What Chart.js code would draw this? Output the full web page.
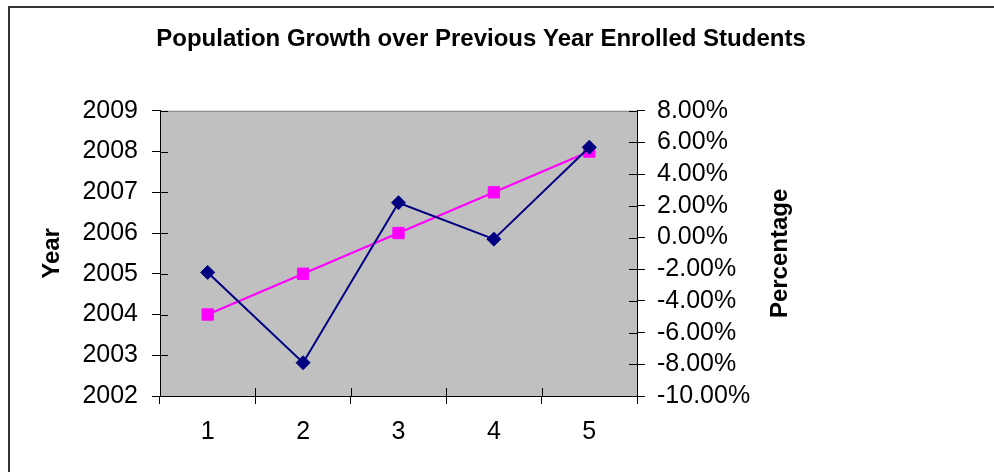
<!DOCTYPE html>
<html>
<head>
<meta charset="utf-8">
<script src="https://cdn.jsdelivr.net/npm/chart.js@4.4.0/dist/chart.umd.min.js"></script>
<style>
    html, body { margin: 0; padding: 0; background: #fff; overflow: hidden; }
    #wrap { position: relative; width: 994px; height: 472px; }
    #frame {
        position: absolute; left: 8px; top: 6px; width: 1000px; height: 500px;
        border: 2px solid #333; pointer-events: none;
    }
    canvas { position: absolute; left: 0; top: 0; }
</style>
</head>
<body>
<div id="wrap">
    <div id="frame"></div>
    <canvas id="chart" width="994" height="472"></canvas>
</div>
<script>
const categories = ['1', '2', '3', '4', '5'];
const years = [2004, 2005, 2006, 2007, 2008];
const growthPct = [-2.2, -7.9, 2.2, -0.1, 5.7];

const yearMin = 2002, yearMax = 2009;
const pctMin = -10, pctMax = 8, pctStep = 2;

const FONT = "'Liberation Sans', Arial, sans-serif";

// grey plot area with a darker top edge
const plotBackground = {
    id: 'plotBackground',
    beforeDraw(chart) {
        const {ctx, chartArea: a} = chart;
        ctx.save();
        ctx.fillStyle = '#c0c0c0';
        ctx.fillRect(a.left, a.top, a.right - a.left, a.bottom - a.top);
        ctx.strokeStyle = '#808080';
        ctx.lineWidth = 1;
        ctx.beginPath();
        ctx.moveTo(a.left, a.top + 0.5);
        ctx.lineTo(a.right, a.top + 0.5);
        ctx.stroke();
        ctx.restore();
    }
};

// excel style ticks cross the axis, so add the inner half
const innerTicks = {
    id: 'innerTicks',
    beforeDatasetsDraw(chart) {
        const {ctx, chartArea: a, scales} = chart;
        const len = 8;
        ctx.save();
        ctx.strokeStyle = '#000';
        ctx.lineWidth = 1;
        ctx.beginPath();
        scales.y.ticks.forEach(t => {
            const py = Math.round(scales.y.getPixelForValue(t.value)) + 0.5;
            ctx.moveTo(a.left, py);
            ctx.lineTo(a.left + len, py);
        });
        scales.y1.ticks.forEach(t => {
            const py = Math.round(scales.y1.getPixelForValue(t.value)) + 0.5;
            ctx.moveTo(a.right - len, py);
            ctx.lineTo(a.right, py);
        });
        for (let i = 0; i <= categories.length; i++) {
            const px = Math.round(scales.x.getPixelForValue(i - 0.5)) + 0.5;
            ctx.moveTo(px, a.bottom - len);
            ctx.lineTo(px, a.bottom);
        }
        ctx.stroke();
        ctx.restore();
    }
};

// right axis title reads bottom to top
const rightTitle = {
    id: 'rightTitle',
    afterDraw(chart) {
        const {ctx, chartArea: a} = chart;
        ctx.save();
        ctx.translate(a.right + 143, (a.top + a.bottom) / 2);
        ctx.rotate(-Math.PI / 2);
        ctx.font = 'bold 24px ' + FONT;
        ctx.fillStyle = '#000';
        ctx.textAlign = 'center';
        ctx.textBaseline = 'middle';
        ctx.fillText('Percentage', 0, 0);
        ctx.restore();
    }
};

const axisGrid = {
    drawOnChartArea: false,
    drawTicks: true,
    tickLength: 8,
    color: '#000'
};

new Chart(document.getElementById('chart'), {
    type: 'line',
    data: {
        labels: categories,
        datasets: [{
            label: 'Growth',
            data: growthPct,
            yAxisID: 'y1',
            borderColor: '#000080',
            backgroundColor: '#000080',
            borderWidth: 2,
            pointStyle: 'rectRot',
            pointRadius: 7,
            pointBorderWidth: 1,
            tension: 0
        }, {
            label: 'Year',
            data: years,
            yAxisID: 'y',
            borderColor: '#ff00ff',
            backgroundColor: '#ff00ff',
            borderWidth: 2,
            pointStyle: 'rect',
            pointRadius: 8,
            pointBorderWidth: 1,
            tension: 0
        }]
    },
    options: {
        responsive: false,
        animation: false,
        layout: {padding: {left: 0, right: 32, top: 0, bottom: 0}},
        plugins: {
            legend: {display: false},
            tooltip: {enabled: false},
            title: {
                display: true,
                text: 'Population Growth over Previous Year Enrolled Students',
                color: '#000',
                font: {family: FONT, size: 24, weight: 'bold'},
                padding: {top: 25, bottom: 57}
            }
        },
        scales: {
            x: {
                type: 'category',
                offset: true,
                grid: {...axisGrid, offset: true},
                border: {color: '#000', width: 1},
                ticks: {color: '#000', font: {family: FONT, size: 25}, padding: 13, maxRotation: 0, autoSkip: false},
                afterFit: s => { s.height = 76; }
            },
            y: {
                position: 'left',
                min: yearMin,
                max: yearMax,
                grid: axisGrid,
                border: {color: '#000', width: 1},
                ticks: {
                    stepSize: 1,
                    autoSkip: false,
                    color: '#000',
                    font: {family: FONT, size: 25},
                    padding: 14,
                    callback: v => String(v)
                },
                title: {
                    display: true,
                    text: 'Year',
                    color: '#000',
                    font: {family: FONT, size: 24, weight: 'bold'},
                    padding: {top: 38, bottom: 0}
                },
                afterFit: s => { s.width = 160; }
            },
            y1: {
                position: 'right',
                min: pctMin,
                max: pctMax,
                grid: axisGrid,
                border: {color: '#000', width: 1},
                ticks: {
                    stepSize: pctStep,
                    autoSkip: false,
                    color: '#000',
                    font: {family: FONT, size: 25},
                    padding: 12,
                    callback: v => v.toFixed(2) + '%'
                },
                afterFit: s => { s.width = 325; }
            }
        }
    },
    plugins: [plotBackground, innerTicks, rightTitle]
});
</script>
</body>
</html>
